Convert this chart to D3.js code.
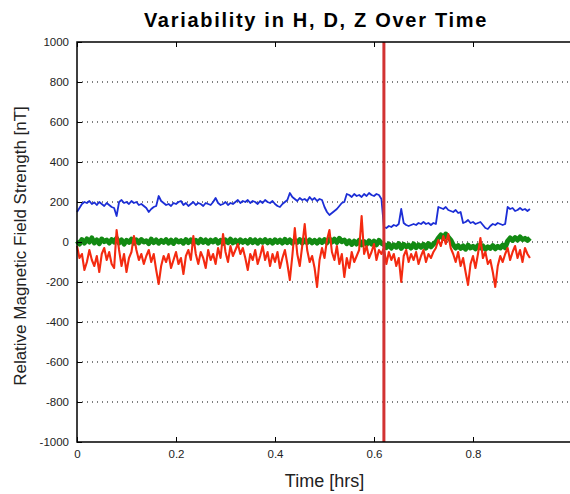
<!DOCTYPE html>
<html>
<head>
<meta charset="utf-8">
<script src="https://cdn.jsdelivr.net/npm/d3@7"></script>
<style>
	body { margin: 0; background: #fff; }
	text { font-family: "Liberation Sans", Arial, sans-serif; }
</style>
</head>
<body>
<script>
// 1. chart data
var title = "Variability in H, D, Z Over Time";
var xLabel = "Time [hrs]";
var yLabel = "Relative Magnetic Field Strength [nT]";
var xTicks = [0, 0.2, 0.4, 0.6, 0.8];
var yTicks = [1000, 800, 600, 400, 200, 0, -200, -400, -600, -800, -1000];
var sampleStep = 0.005; // hrs between samples
var eventTime = 0.62;   // vertical marker

var hValues = [
	150, 170, 190, 200, 195, 205, 190, 198, 185, 200, 190, 180, 195, 185, 175, 170,
	130, 200, 210, 195, 200, 190, 205, 195, 200, 185, 190, 180, 170, 150, 165, 175,
	180, 230, 205, 195, 185, 190, 180, 195, 190, 200, 205, 185, 195, 180, 190, 200,
	185, 195, 190, 180, 195, 190, 185, 200, 220, 195, 185, 190, 200, 185, 195, 190,
	200, 210, 195, 205, 200, 210, 195, 205, 200, 190, 205, 195, 210, 200, 195, 205,
	190, 180, 175, 190, 200, 210, 245, 225, 215, 205, 220, 210, 215, 205, 225, 210,
	220, 205, 215, 210, 175, 150, 135, 145, 155, 165, 180, 195, 200, 240, 235, 225,
	240, 230, 235, 225, 240, 230, 245, 235, 230, 240, 235, 215, 75, 70, 80, 75,
	85, 80, 90, 165, 95, 85, 80, 85, 90, 85, 95, 90, 100, 90, 95, 85,
	95, 90, 175, 170, 165, 175, 160, 155, 150, 160, 145, 150, 95, 100, 110, 95,
	100, 90, 95, 100, 85, 70, 65, 80, 90, 85, 95, 90, 85, 90, 175, 165,
	170, 155, 160, 170, 160, 165, 155, 165
];

var dValues = [
	5, -10, 12, -5, 15, 0, 20, -5, 10, -8, 15, 2, 10, -5, 12, 0, 18, -5, 10, -10, 8, -2, 14, -6,
	10, -4, 12, 0, 6, -8, 14, -3, 10, -6, 8, -2, 12, -5, 9, -7, 11, 0, 7, -6, 12, -3, 10, -5,
	8, -4, 13, -2, 10, -6, 9, 0, 12, -5, 8, -7, 10, -3, 14, -4, 9, -6, 11, -2, 8, -5, 12, -3,
	10, -6, 9, -1, 12, -4, 8, -6, 11, -2, 9, -5, 13, -3, 10, -6, 8, -2, 12, -5, 9, -3, 11, -4,
	8, -6, 10, -2, 12, -4, 16, 0, 14, -2, 18, 2, 10, -8, 6, -12, 4, -10, 8, -14, 2, -12, 6, -10,
	4, -14, 8, -6, -12, -28, -10, -30, -14, -26, -8, -32, -12, -24, -16, -30, -10, -28, -14, -26, -12, -30, -8, -24,
	-10, 0, 20, 35, 18, 40, 25, 10, -14, -30, -18, -32, -20, -36, -16, -30, -22, -34, -18, -30, -20, -36, -24, -32,
	-18, -34, -22, -30, -16, -28, 5, 20, 8, 22, 10, 25, 12, 18, 8, 20
];

var zValues = [
	-20, -80, -60, -140, -100, -40, -90, -120, -70, -150, -60, -30, -90, -50, -110, -130,
	60, -40, -120, -60, -150, -80, -50, 30, -40, -90, -60, -110, -70, -40, -100, -60,
	-140, -210, -120, -70, -100, -60, -130, -90, -50, -110, -80, -160, -70, -40, -90, 30,
	-60, -110, -50, -80, -130, -40, -90, -60, -110, -30, -80, 40, -50, -100, -20, -70,
	-40, -10, -60, -30, -80, -140, -60, -90, -40, -110, -70, -20, -90, -50, -120, -60,
	-100, -50, -130, -80, -40, -110, -190, -70, 70, -60, -120, -20, 90, -40, -100, -70,
	-130, -225, -90, -30, -80, 10, 60, -50, -90, -20, -110, -60, -175, -80, -130, -50,
	-100, -70, -40, 130, -60, -20, -80, -50, -10, -90, -40, -60, -30, -110, -50, -90,
	-60, -120, -80, -200, -70, -40, -100, -60, -90, -50, -110, -70, -40, -100, -60, -80,
	-50, -30, 10, -20, 30, -10, 40, -30, -60, -100, -50, -120, -80, -150, -215, -110,
	-70, -130, -60, 20, -80, -50, -110, -90, -150, -225, -120, -70, -100, -60, -30, -90,
	-50, -20, -80, -40, -100, -30, -60, -80
];

// 2. draw
ChartDrawer();

function ChartDrawer(){
	// doc dimensions
	var width = 570;
	var height = 494;
	var margin = {top: 42, right: 0, bottom: 52, left: 77};

	var svgContainer = d3.select("body").append("svg")
		.attr("width", width)
		.attr("height", height);

	var x = d3.scaleLinear()
		.domain([0, 1])
		.range([margin.left, margin.left + 495]);
	var y = d3.scaleLinear()
		.domain([-1000, 1000])
		.range([height - margin.bottom, margin.top]);

	// dotted grid
	svgContainer.append("g").selectAll("line")
		.data(yTicks.filter(function(d) { return Math.abs(d) < 1000; }))
		.enter()
		.append("line")
		.attr("x1", x(0))
		.attr("x2", width)
		.attr("y1", function(d) { return y(d); })
		.attr("y2", function(d) { return y(d); })
		.attr("stroke", "#000")
		.attr("stroke-width", 1)
		.attr("stroke-dasharray", "1,4");

	// series lines
	var line = d3.line()
		.x(function(d, i) { return x(i * sampleStep); })
		.y(function(d) { return y(d); });

	var series = [
		{"values": hValues, "color": "#1c2ed6", "width": 1.8},
		{"values": dValues, "color": "#138a13", "width": 5},
		{"values": zValues, "color": "#f42a10", "width": 2.1}
	];

	svgContainer.append("g").selectAll("path")
		.data(series)
		.enter()
		.append("path")
		.attr("d", function(d) { return line(d.values); })
		.attr("fill", "none")
		.attr("stroke", function(d) { return d.color; })
		.attr("stroke-width", function(d) { return d.width; })
		.attr("stroke-linejoin", "round");

	// event marker
	svgContainer.append("line")
		.attr("x1", x(eventTime))
		.attr("x2", x(eventTime))
		.attr("y1", y(1000))
		.attr("y2", y(-1000))
		.attr("stroke", "#d23232")
		.attr("stroke-width", 3);

	// axes (ticks inside, like matlab)
	var xAxis = d3.axisBottom(x).tickValues(xTicks).tickSize(-5).tickPadding(8)
		.tickFormat(function(d) { return d; });
	var xAxisTop = d3.axisTop(x).tickValues(xTicks).tickSize(-5).tickFormat("");
	var yAxis = d3.axisLeft(y).tickValues(yTicks).tickSize(-5).tickPadding(8)
		.tickFormat(function(d) { return d; });

	var gx = svgContainer.append("g")
		.attr("transform", "translate(0," + y(-1000) + ")")
		.call(xAxis);
	var gxTop = svgContainer.append("g")
		.attr("transform", "translate(0," + y(1000) + ")")
		.call(xAxisTop);
	var gy = svgContainer.append("g")
		.attr("transform", "translate(" + x(0) + ",0)")
		.call(yAxis);

	[gx, gxTop, gy].forEach(function(g){
		g.select(".domain").remove();
		g.selectAll("line").attr("stroke", "#000");
		g.selectAll("text")
			.attr("fill", "#222")
			.style("font-size", "11.5px")
			.style("font-family", "'Liberation Sans', Arial, sans-serif");
	});

	// frame
	svgContainer.append("path")
		.attr("d", "M" + width + "," + y(1000) + "H" + x(0) + "V" + y(-1000) + "H" + width)
		.attr("fill", "none")
		.attr("stroke", "#000")
		.attr("stroke-width", 1.5);

	// labels
	svgContainer.append("text")
		.attr("x", 316)
		.attr("y", 27)
		.attr("text-anchor", "middle")
		.style("font-size", "20px")
		.style("font-weight", "bold")
		.style("letter-spacing", "1.7px")
		.text(title);

	svgContainer.append("text")
		.attr("x", x(0.5))
		.attr("y", 487)
		.attr("text-anchor", "middle")
		.style("font-size", "18px")
		.attr("fill", "#222")
		.text(xLabel);

	svgContainer.append("text")
		.attr("transform", "translate(26,246) rotate(-90)")
		.attr("text-anchor", "middle")
		.style("font-size", "17px")
		.attr("fill", "#222")
		.text(yLabel);
}
</script>
</body>
</html>
